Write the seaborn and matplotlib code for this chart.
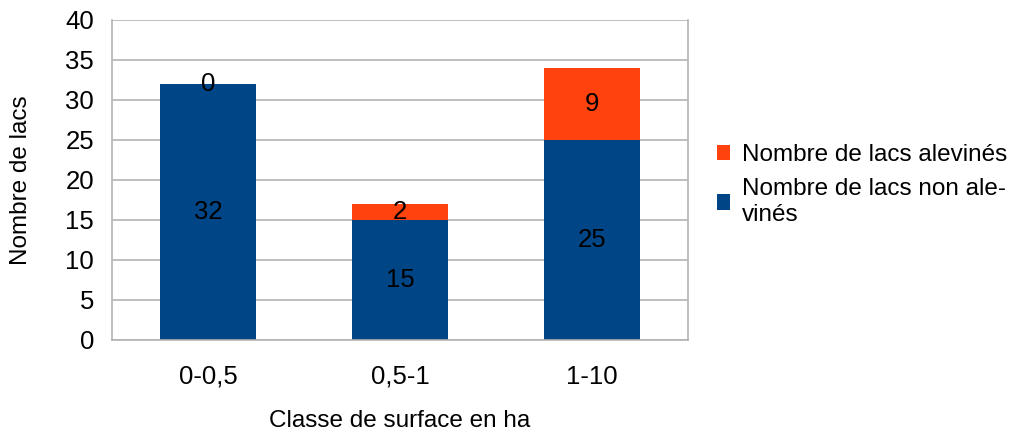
import pandas as pd
import seaborn as sns
import matplotlib.pyplot as plt
from matplotlib.ticker import FixedLocator

classes = ['0-0,5', '0,5-1', '1-10']
non_alevines = [32, 15, 25]
alevines = [0, 2, 9]

df = pd.DataFrame({'Classe': classes, 'non': non_alevines, 'alev': alevines})
df['total'] = df['non'] + df['alev']

sns.set_style('white')
plt.rcParams['font.family'] = ['Liberation Sans', 'DejaVu Sans']
plt.rcParams['text.color'] = 'black'
plt.rcParams['axes.labelcolor'] = 'black'
plt.rcParams['xtick.labelcolor'] = 'black'
plt.rcParams['ytick.labelcolor'] = 'black'

fig = plt.figure(figsize=(10.32, 4.34), dpi=100)
ax = fig.add_axes([0.1085, 0.2166, 0.558, 0.7374])

blue = '#004586'
orange = '#ff420e'
grid = '#b3b3b3'

sns.barplot(data=df, x='Classe', y='total', color=orange, width=0.5,
            saturation=1, ax=ax, label='Nombre de lacs alevinés', linewidth=0)
sns.barplot(data=df, x='Classe', y='non', color=blue, width=0.5,
            saturation=1, ax=ax, label='Nombre de lacs non ale-\nvinés', linewidth=0)

# labels au centre des segments
for i, row in df.iterrows():
    ax.text(i, row['non'] / 2, str(row['non']), ha='center', va='center', fontsize=18.5, color='black')
    ax.text(i, row['non'] + row['alev'] / 2, str(row['alev']), ha='center', va='center', fontsize=18.5, color='black')

ax.set_ylim(0, 40)
ax.set_xlim(-0.5, 2.5)
ax.set_yticks(range(0, 41, 5))
ax.yaxis.grid(True, color=grid, linewidth=1.2)
ax.set_axisbelow(True)
ax.xaxis.set_minor_locator(FixedLocator([-0.5, 0.5, 1.5, 2.5]))
ax.tick_params(axis='x', which='major', length=0, pad=18, labelsize=18.5)
ax.tick_params(axis='x', which='minor', length=10, width=1.2, color=grid)
ax.tick_params(axis='y', length=10, width=1.2, color=grid, labelsize=18.5, pad=3)

for s in ['left', 'right', 'bottom']:
    ax.spines[s].set_color(grid)
    ax.spines[s].set_linewidth(1.2)
ax.spines['top'].set_visible(False)

ax.set_xlabel('Classe de surface en ha', fontsize=17.5, labelpad=15)
ax.set_ylabel('Nombre de lacs', fontsize=17.5, labelpad=24)

ax.legend(loc='center left', bbox_to_anchor=(1.012, 0.485), frameon=False, fontsize=17.5,
          handlelength=0.55, handleheight=0.6, handletextpad=0.5, labelspacing=0.5)

plt.savefig('out.png', dpi=100)
